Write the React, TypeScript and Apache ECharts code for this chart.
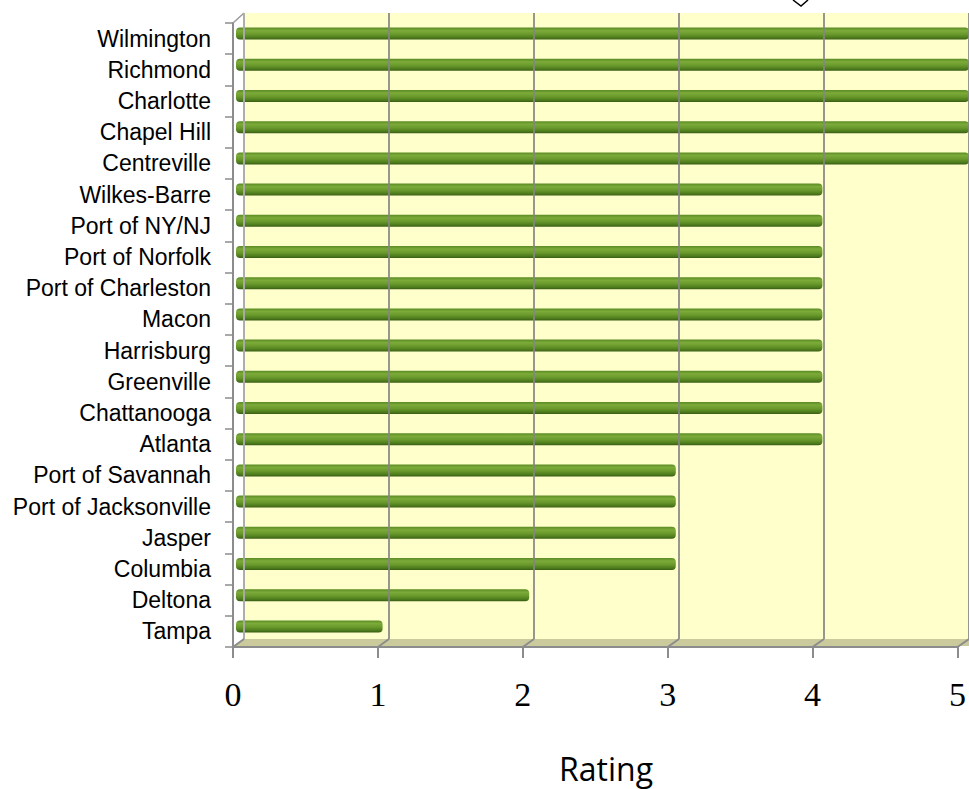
import React, { useEffect, useRef } from "react";
import * as echarts from "echarts";

// ---- data ----
const categories = [
  "Wilmington",
  "Richmond",
  "Charlotte",
  "Chapel Hill",
  "Centreville",
  "Wilkes-Barre",
  "Port of NY/NJ",
  "Port of Norfolk",
  "Port of Charleston",
  "Macon",
  "Harrisburg",
  "Greenville",
  "Chattanooga",
  "Atlanta",
  "Port of Savannah",
  "Port of Jacksonville",
  "Jasper",
  "Columbia",
  "Deltona",
  "Tampa",
];
const ratings = [5, 5, 5, 5, 5, 4, 4, 4, 4, 4, 4, 4, 4, 4, 3, 3, 3, 3, 2, 1];
const ratingTicks = [0, 1, 2, 3, 4, 5];
const axisTitle = "Rating";

// ---- layout ----
const WALL = { left: 244, top: 13, width: 730, height: 626 };
const BARS = { left: 236, top: 18, width: 736, height: 624 };
const FRONT = { left: 233, top: 23, width: 730, height: 624 };

export default function App() {
  const ref = useRef<HTMLDivElement>(null);

  useEffect(() => {
    document.body.style.margin = "0";
    const chart = echarts.init(ref.current!, null, { renderer: "svg" });
    const min = ratingTicks[0];
    const max = ratingTicks[ratingTicks.length - 1];
    const interval = ratingTicks[1] - ratingTicks[0];

    chart.setOption({
      animation: false,
      backgroundColor: "#ffffff",
      grid: [
        { ...WALL, show: true, backgroundColor: "#FFFFCC", borderWidth: 0 },
        { ...BARS, show: false },
        { ...FRONT, show: false },
      ],
      xAxis: [
        {
          type: "value",
          gridIndex: 0,
          min,
          max,
          interval,
          z: 5,
          axisLine: { show: false },
          axisTick: { show: false },
          axisLabel: { show: false },
          splitLine: { show: true, lineStyle: { color: "#858585", width: 2, opacity: 0.85 } },
        },
        { type: "value", gridIndex: 1, min, max, interval, show: false },
        {
          type: "value",
          gridIndex: 2,
          min,
          max,
          interval,
          axisLine: { show: true, lineStyle: { color: "#8c8c8c", width: 2 } },
          axisTick: { show: true, length: 11, lineStyle: { color: "#8c8c8c", width: 2 } },
          axisLabel: {
            fontFamily: "Liberation Serif",
            fontSize: 34,
            color: "#000",
            margin: 30,
          },
          splitLine: { show: false },
        },
      ],
      yAxis: [
        {
          type: "category",
          gridIndex: 0,
          data: categories,
          inverse: true,
          axisLine: { show: false },
          axisTick: { show: false },
          axisLabel: { show: false },
          splitLine: { show: false },
        },
        { type: "category", gridIndex: 1, data: categories, inverse: true, show: false },
        {
          type: "category",
          gridIndex: 2,
          data: categories,
          inverse: true,
          axisLine: { show: true, lineStyle: { color: "#8c8c8c", width: 2 } },
          axisTick: { show: true, length: 8, lineStyle: { color: "#8c8c8c", width: 1.5 } },
          axisLabel: {
            fontFamily: "Liberation Sans",
            fontSize: 23,
            color: "#000",
            margin: 22,
          },
          splitLine: { show: false },
        },
      ],
      series: [
        {
          type: "bar",
          xAxisIndex: 1,
          yAxisIndex: 1,
          data: ratings,
          barWidth: 12,
          z: 2,
          itemStyle: {
            borderRadius: 4,
            color: new echarts.graphic.LinearGradient(0, 0, 0, 1, [
              { offset: 0, color: "#5a8a22" },
              { offset: 0.25, color: "#7cab3a" },
              { offset: 0.55, color: "#6a9a2c" },
              { offset: 0.85, color: "#4c7a1c" },
              { offset: 1, color: "#385c13" },
            ]),
          },
        },
      ],
    });

    // 3D frame decorations (floor, floor gridline continuations, wall edges)
    const wallBottom = WALL.top + WALL.height;
    const frontBottom = FRONT.top + FRONT.height;
    const backX = (v: number) => chart.convertToPixel({ xAxisIndex: 0 }, v) as number;
    const frontX = (v: number) => chart.convertToPixel({ xAxisIndex: 2 }, v) as number;
    const graphics: any[] = [
      {
        type: "polygon",
        z: 1,
        shape: {
          points: [
            [WALL.left, wallBottom],
            [1000, wallBottom],
            [1000, frontBottom - 1],
            [FRONT.left, frontBottom - 1],
          ],
        },
        style: { fill: "#CBCA9D" },
      },
      {
        type: "line",
        z: 6,
        shape: { x1: FRONT.left, y1: FRONT.top, x2: WALL.left, y2: WALL.top },
        style: { stroke: "#9a9a9a", lineWidth: 1.5 },
      },
      {
        type: "line",
        z: 6,
        shape: { x1: WALL.left, y1: WALL.top, x2: WALL.left, y2: wallBottom },
        style: { stroke: "#b5b5b5", lineWidth: 1.5 },
      },
      {
        type: "polyline",
        z: 6,
        shape: { points: [[793, 0], [801, 6], [808, 0]] },
        style: { stroke: "#000", lineWidth: 1.5, fill: "none" },
      },
      {
        type: "text",
        z: 6,
        style: {
          text: axisTitle,
          x: 606,
          y: 768,
          fontFamily: "Open Sans",
          fontSize: 32,
          fill: "#000",
          align: "center",
          verticalAlign: "middle",
        },
      },
    ];
    ratingTicks.forEach((t) => {
      graphics.push({
        type: "line",
        z: 6,
        shape: { x1: backX(t), y1: wallBottom, x2: frontX(t), y2: frontBottom },
        style: { stroke: "#8c8c8c", lineWidth: 2 },
      });
    });
    chart.setOption({ graphic: graphics });

    return () => chart.dispose();
  }, []);

  return <div ref={ref} style={{ width: 969, height: 789 }} />;
}
